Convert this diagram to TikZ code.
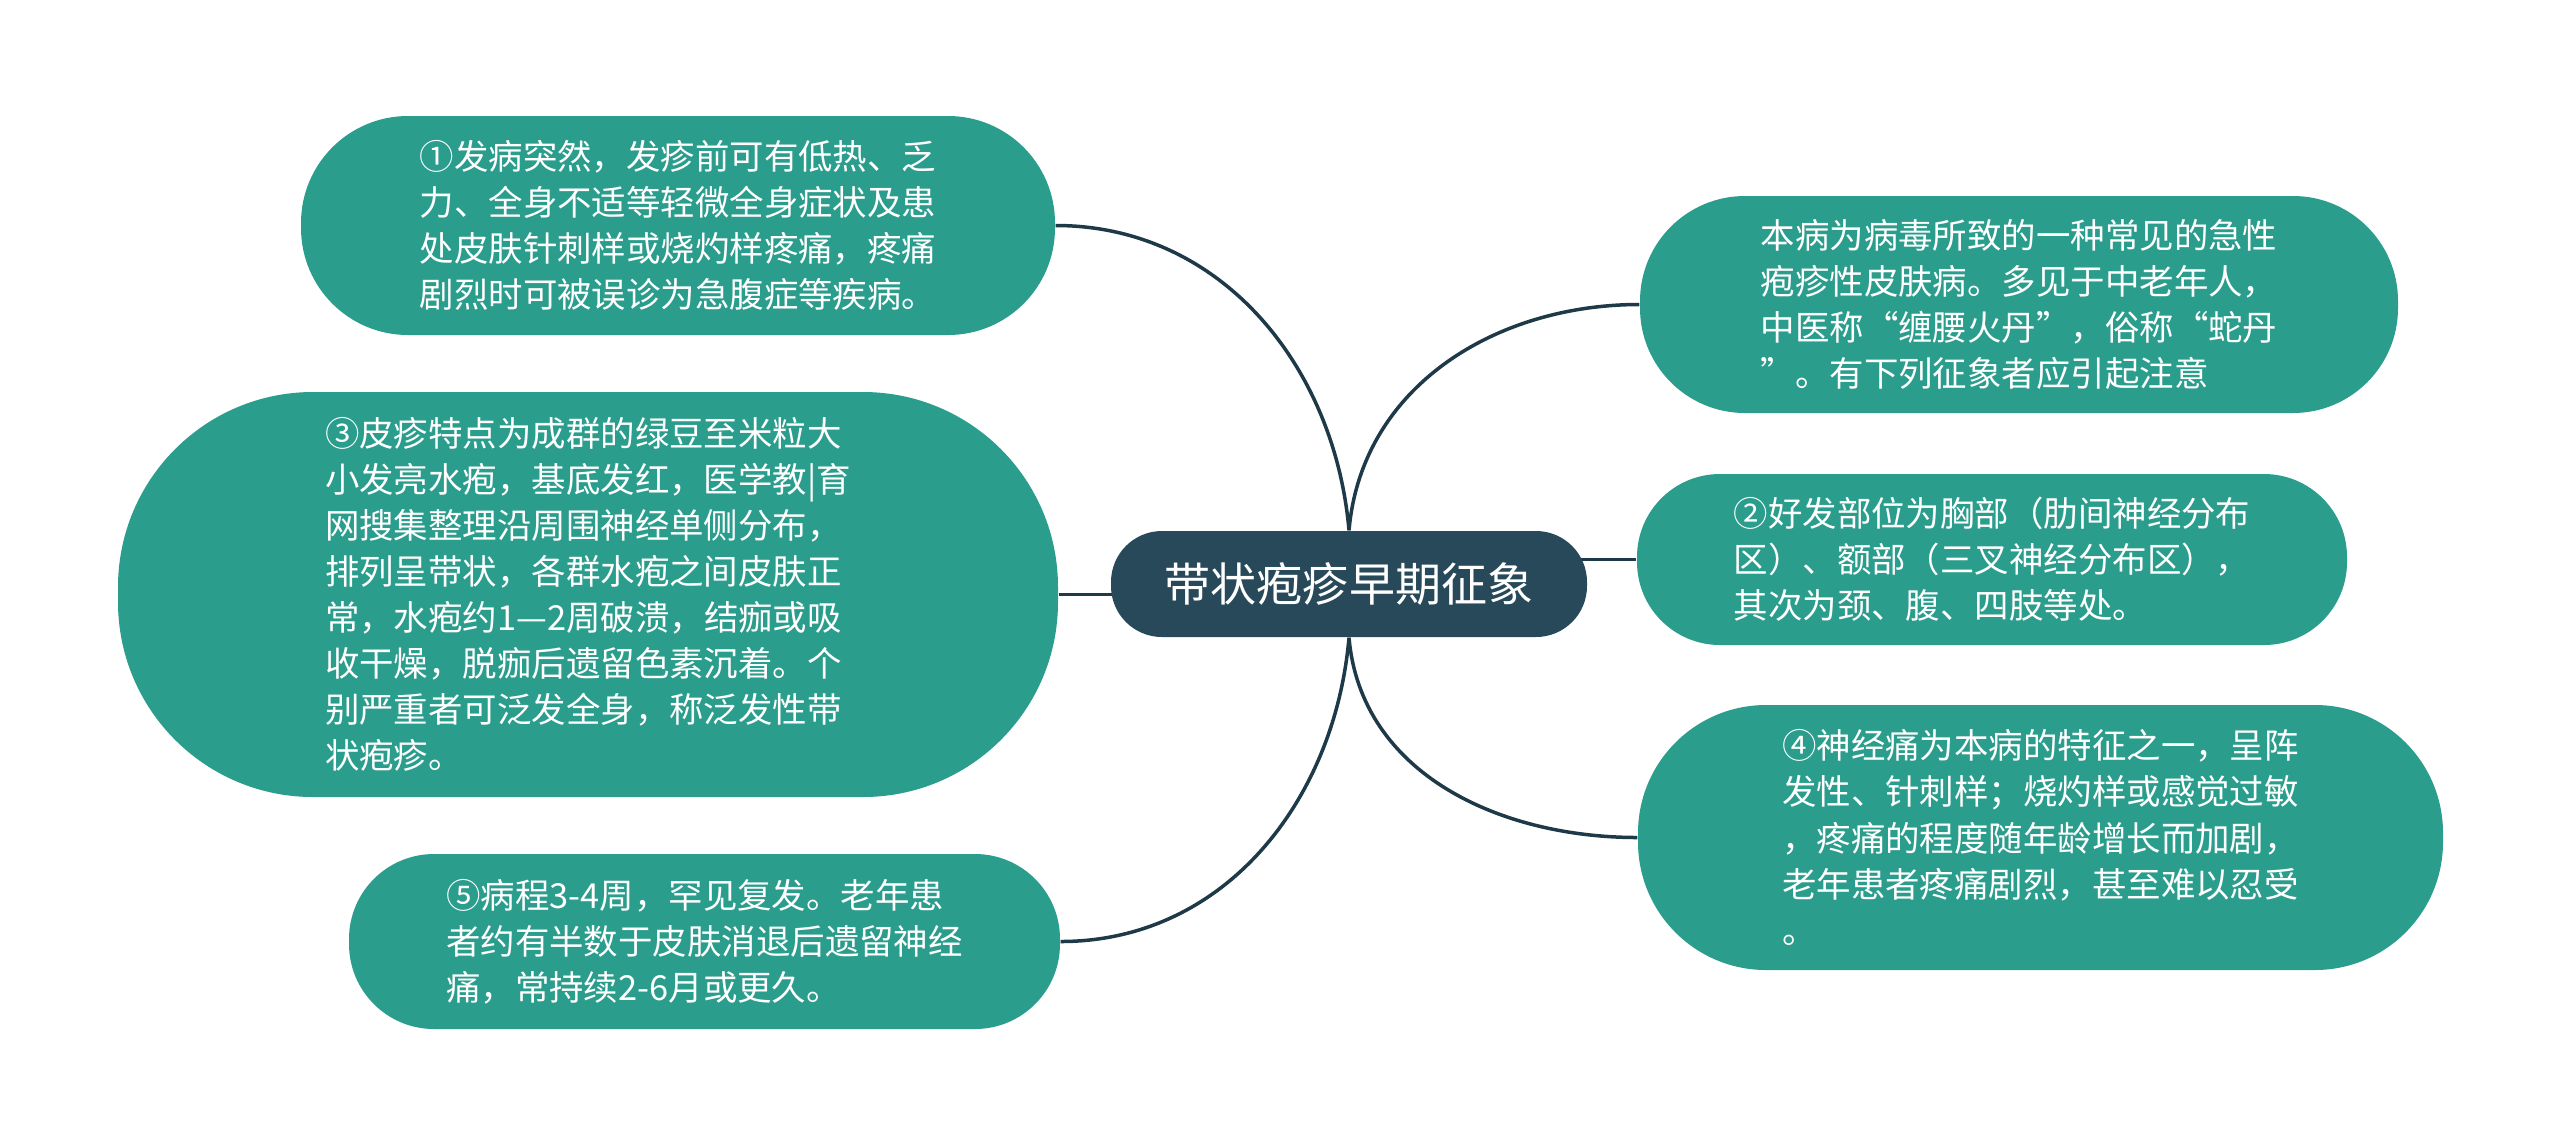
\documentclass[tikz,border=0pt]{standalone}
\usepackage{fontspec}
\setmainfont{Noto Sans CJK SC}
\usepackage{tikz}
\usetikzlibrary{positioning,calc,backgrounds}
\definecolor{leafgreen}{HTML}{2A9D8C}
\definecolor{rootblue}{HTML}{27495A}
\definecolor{linkblue}{HTML}{1E3A48}
\tikzset{leaf/.style n args={3}{
    fill=leafgreen, text=white, align=left, inner sep=2pt,
    minimum width=#1, minimum height=#2, rounded corners=#3,
    font=\fontsize{9.8pt}{13.1pt}\selectfont
    },
    root/.style={
    fill=rootblue, text=white, inner sep=2pt,
    minimum width=4.76cm, minimum height=1.06cm, rounded corners=0.51cm,
    font=\fontsize{13.1pt}{15pt}\selectfont
    },
    link/.style={draw=linkblue, line width=0.035cm}
}

\begin{document}
\begin{tikzpicture}
	\useasboundingbox (0,0) rectangle (25.6,-11.45);
	\node[root] (R) at (13.49,-5.84) {带状疱疹早期征象};
	\node[leaf={7.54cm}{2.19cm}{1.07cm}] (S1) at (6.78,-2.255) {①发病突然，发疹前可有低热、乏\\力、全身不适等轻微全身症状及患\\处皮肤针刺样或烧灼样疼痛，疼痛\\剧烈时可被误诊为急腹症等疾病。};
	\node[leaf={9.40cm}{4.05cm}{1.95cm}] (S3) at (5.88,-5.945) {③皮疹特点为成群的绿豆至米粒大\\小发亮水疱，基底发红，医学教|育\\网搜集整理沿周围神经单侧分布，\\排列呈带状，各群水疱之间皮肤正\\常，水疱约1—2周破溃，结痂或吸\\收干燥，脱痂后遗留色素沉着。个\\别严重者可泛发全身，称泛发性带\\状疱疹。};
	\node[leaf={7.11cm}{1.75cm}{0.85cm}] (S5) at (7.045,-9.415) {⑤病程3-4周，罕见复发。老年患\\者约有半数于皮肤消退后遗留神经\\痛，常持续2-6月或更久。};
	\node[leaf={7.58cm}{2.17cm}{1.05cm}] (S0) at (20.19,-3.045) {本病为病毒所致的一种常见的急性\\疱疹性皮肤病。多见于中老年人，\\中医称“缠腰火丹”，俗称“蛇丹\\”。有下列征象者应引起注意};
	\node[leaf={7.10cm}{1.71cm}{0.83cm}] (S2) at (19.92,-5.595) {②好发部位为胸部（肋间神经分布\\区）、额部（三叉神经分布区），\\其次为颈、腹、四肢等处。};
	\node[leaf={8.05cm}{2.65cm}{1.28cm}] (S4) at (20.405,-8.375) {④神经痛为本病的特征之一，呈阵\\发性、针刺样；烧灼样或感觉过敏\\，疼痛的程度随年龄增长而加剧，\\老年患者疼痛剧烈，甚至难以忍受\\。};
	\begin{scope}[on background layer]
	\fill[white] (0,0) rectangle (25.6,-11.45);
	\draw[link] (R.north) to[out=95,in=0] (S1.east);
	\draw[link] (R.north) to[out=85,in=180] (S0.west);
	\draw[link] (S3.east) -- (S3.east -| R.center);
	\draw[link] (S2.west) -- (S2.west -| R.center);
	\draw[link] (R.south) to[out=-95,in=0] (S5.east);
	\draw[link] (R.south) to[out=-85,in=180] (S4.west);
	\end{scope}
\end{tikzpicture}
\end{document}
